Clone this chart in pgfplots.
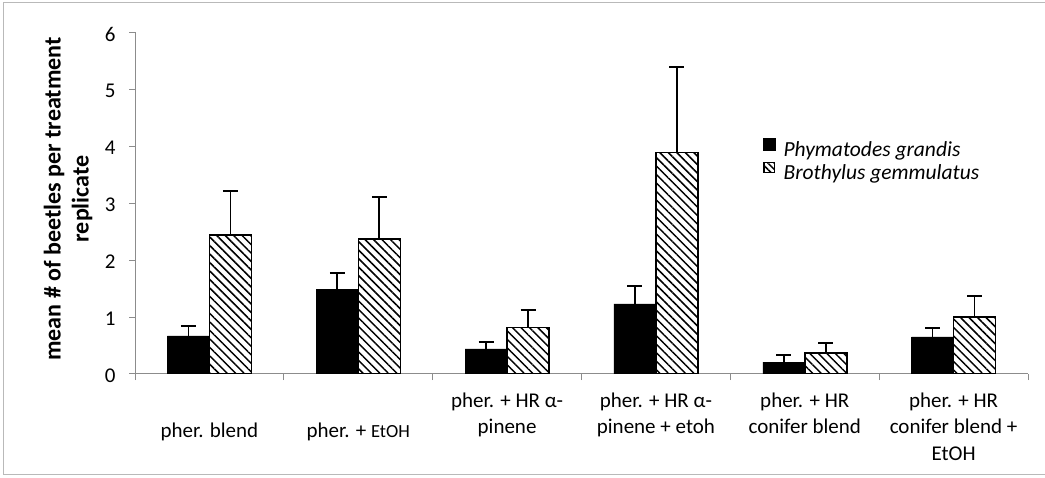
\documentclass[border=0pt]{standalone}
\usepackage{pgfplots}
\pgfplotsset{compat=1.18}
\usepackage{fontspec}
\setmainfont{Carlito}
\usetikzlibrary{patterns.meta}
\definecolor{axgray}{RGB}{140,140,140}
\definecolor{framegray}{RGB}{185,185,185}
\begin{document}
\begin{tikzpicture}[x=1pt,y=1pt]
\useasboundingbox (0,0) rectangle (1045,477);
\draw[framegray, line width=1.5pt] (3.5,2.5) rectangle (1070,474.5);
\begin{axis}[
  at={(135pt,103pt)}, anchor=south west,
  scale only axis, width=893pt, height=342pt,
  xmin=-0.5, xmax=5.5, ymin=0, ymax=6,
  axis x line*=bottom, axis y line*=left,
  axis line style={axgray, line width=1pt},
  ybar=0pt, bar width=42pt,
  ytick={0,1,2,3,4,5,6},
  yticklabels={0,1,2,3,4,5,6},
  tick align=outside, major tick length=6pt,
  y tick style={axgray, line width=1pt},
  xtick={0,1,2,3,4,5},
  major x tick style={draw=none},
  minor xtick={-0.5,0.5,1.5,2.5,3.5,4.5,5.5},
  minor tick length=6pt,
  minor x tick style={axgray, line width=1pt},
  /pgf/number format/assume math mode=true,
  yticklabel style={font=\fontsize{21}{24}\selectfont, anchor=east, xshift=-10pt, yshift=-2pt},
  xticklabel style={font=\fontsize{21}{26.5}\selectfont, align=center, anchor=north, yshift=-9pt},
  xticklabels={
    {\strut\\pher. blend},
    {\strut\\pher. + {\fontsize{18.5}{26.5}\selectfont EtOH}},
    {pher. + HR α-\\pinene},
    {pher. + HR α-\\pinene + etoh},
    {pher. + HR\\conifer blend},
    {pher. + HR\\conifer blend +\\EtOH}},
  legend style={at={(axis description cs:0.7032,0.69)}, anchor=north west, draw=none, fill=none,
    font=\itshape\fontsize{21.5}{24}\selectfont, row sep=4pt, inner sep=0pt,
    nodes={inner sep=0pt},
    /tikz/every odd column/.append style={column sep=8pt}},
  legend cell align=left,
]
\addplot[fill=black, draw=black,
  legend image code/.code={\fill[black] (0pt,-0.5pt) rectangle (12pt,11pt);},
  error bars/.cd, y dir=plus, y explicit,
  error bar style={black, line width=1.8pt},
  error mark options={black, rotate=90, mark size=7.5pt, line width=1.8pt}]
  coordinates {(0,0.67) +- (0,0.17) (1,1.49) +- (0,0.28) (2,0.44) +- (0,0.12)
               (3,1.23) +- (0,0.31) (4,0.21) +- (0,0.12) (5,0.65) +- (0,0.16)};
\addlegendentry{Phymatodes grandis}
\addplot[draw=black, line width=1.5pt, pattern={Lines[angle=-45,distance=6pt,line width=1.5pt]},
  legend image code/.code={\draw[black, line width=1.5pt, pattern={Lines[angle=-45,distance=4.5pt,line width=1.5pt]}] (0.75pt,0.25pt) rectangle (11.25pt,10.25pt);},
  error bars/.cd, y dir=plus, y explicit,
  error bar style={black, line width=1.8pt},
  error mark options={black, rotate=90, mark size=7.5pt, line width=1.8pt}]
  coordinates {(0,2.44) +- (0,0.77) (1,2.37) +- (0,0.73) (2,0.82) +- (0,0.30)
               (3,3.89) +- (0,1.50) (4,0.37) +- (0,0.17) (5,1.00) +- (0,0.37)};
\addlegendentry{Brothylus gemmulatus}
\end{axis}
\node[rotate=90, align=center, font=\bfseries\fontsize{24}{28}\selectfont] at (68,278)
  {mean \# of beetles per treatment\\replicate};
\end{tikzpicture}
\end{document}
